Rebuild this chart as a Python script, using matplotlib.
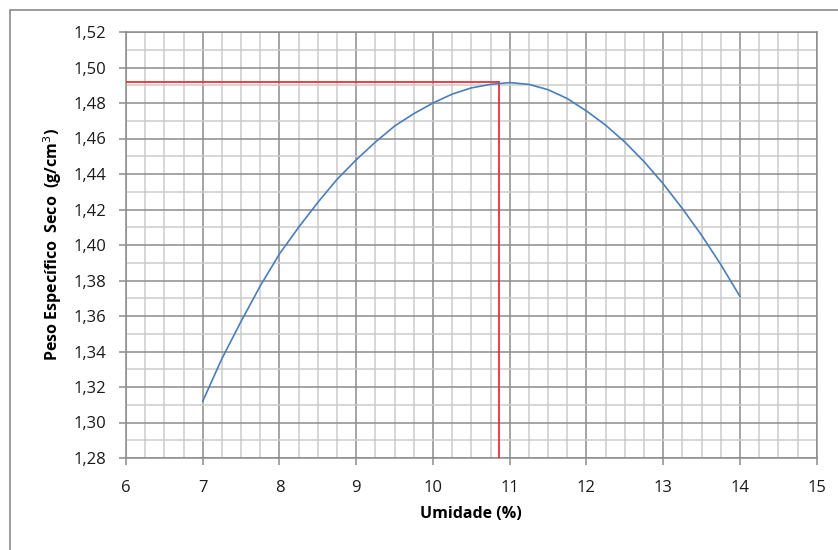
import matplotlib
matplotlib.use("Agg")
import matplotlib.pyplot as plt
from matplotlib.patches import Rectangle
from matplotlib.ticker import MultipleLocator, FuncFormatter

# curve
umidade = [7.00, 7.25, 7.50, 7.75, 8.00, 8.25, 8.50, 8.75, 9.00, 9.25,
           9.50, 9.75, 10.00, 10.25, 10.50, 10.75, 11.00, 11.25, 11.50,
           11.75, 12.00, 12.25, 12.50, 12.75, 13.00, 13.25, 13.50, 13.75, 14.00]
peso = [1.312, 1.336, 1.357, 1.377, 1.395, 1.410, 1.424, 1.437, 1.448, 1.458,
        1.467, 1.474, 1.480, 1.485, 1.4885, 1.4905, 1.4915, 1.4905, 1.4875,
        1.4825, 1.4755, 1.4675, 1.458, 1.447, 1.4345, 1.4205, 1.4055, 1.389, 1.371]

# optimum (red guide lines)
h_otima = 10.865
peso_max = 1.4917

plt.rcParams['font.family'] = ['Open Sans', 'DejaVu Sans']

fig = plt.figure(figsize=(8.38, 5.5), dpi=100)
ax = fig.add_axes([126 / 838, 1 - 458 / 550, (816.7 - 126) / 838, (458 - 32) / 550])

# chart area border
fig.add_artist(Rectangle((10 / 838, -0.1), 1.2, 1 - 10 / 550 + 0.1,
                         transform=fig.transFigure, fill=False,
                         edgecolor='#8a8a8a', linewidth=1.2))

ax.set_xlim(6, 15)
ax.set_ylim(1.28, 1.52)
ax.xaxis.set_major_locator(MultipleLocator(1))
ax.xaxis.set_minor_locator(MultipleLocator(0.25))
ax.yaxis.set_major_locator(MultipleLocator(0.02))
ax.yaxis.set_minor_locator(MultipleLocator(0.01))
ax.yaxis.set_major_formatter(FuncFormatter(lambda v, p: f"{v:.2f}".replace('.', ',')))
ax.xaxis.set_major_formatter(FuncFormatter(lambda v, p: f"{v:.0f}"))

ax.grid(which='minor', color='#cbcbcb', linewidth=1.1)
ax.grid(which='major', color='#8c8c8c', linewidth=1.1)
ax.set_axisbelow(True)

for s in ax.spines.values():
    s.set_color('#8c8c8c')
    s.set_linewidth(1.1)

ax.tick_params(which='major', direction='out', length=5, width=1.1, color='#8c8c8c',
               labelsize=12, labelcolor='#1a1a1a')
ax.tick_params(axis='x', which='major', pad=11)
ax.tick_params(axis='y', which='major', pad=9)
ax.tick_params(which='minor', length=0)

ax.plot([6, h_otima], [peso_max, peso_max], color='#e8303a', linewidth=1.3, zorder=3)
ax.plot([h_otima, h_otima], [1.28, peso_max], color='#e8303a', linewidth=1.3, zorder=3)
ax.plot(umidade, peso, color='#4a7ebb', linewidth=1.2, zorder=4)

ax.set_xlabel('Umidade (%)', fontsize=11.5, fontweight='bold', labelpad=7)
ax.set_ylabel('Peso Específico  Seco  (g/cm$^3$)', fontsize=11.5, fontweight='bold', labelpad=7)

fig.savefig('out.png', dpi=100)
